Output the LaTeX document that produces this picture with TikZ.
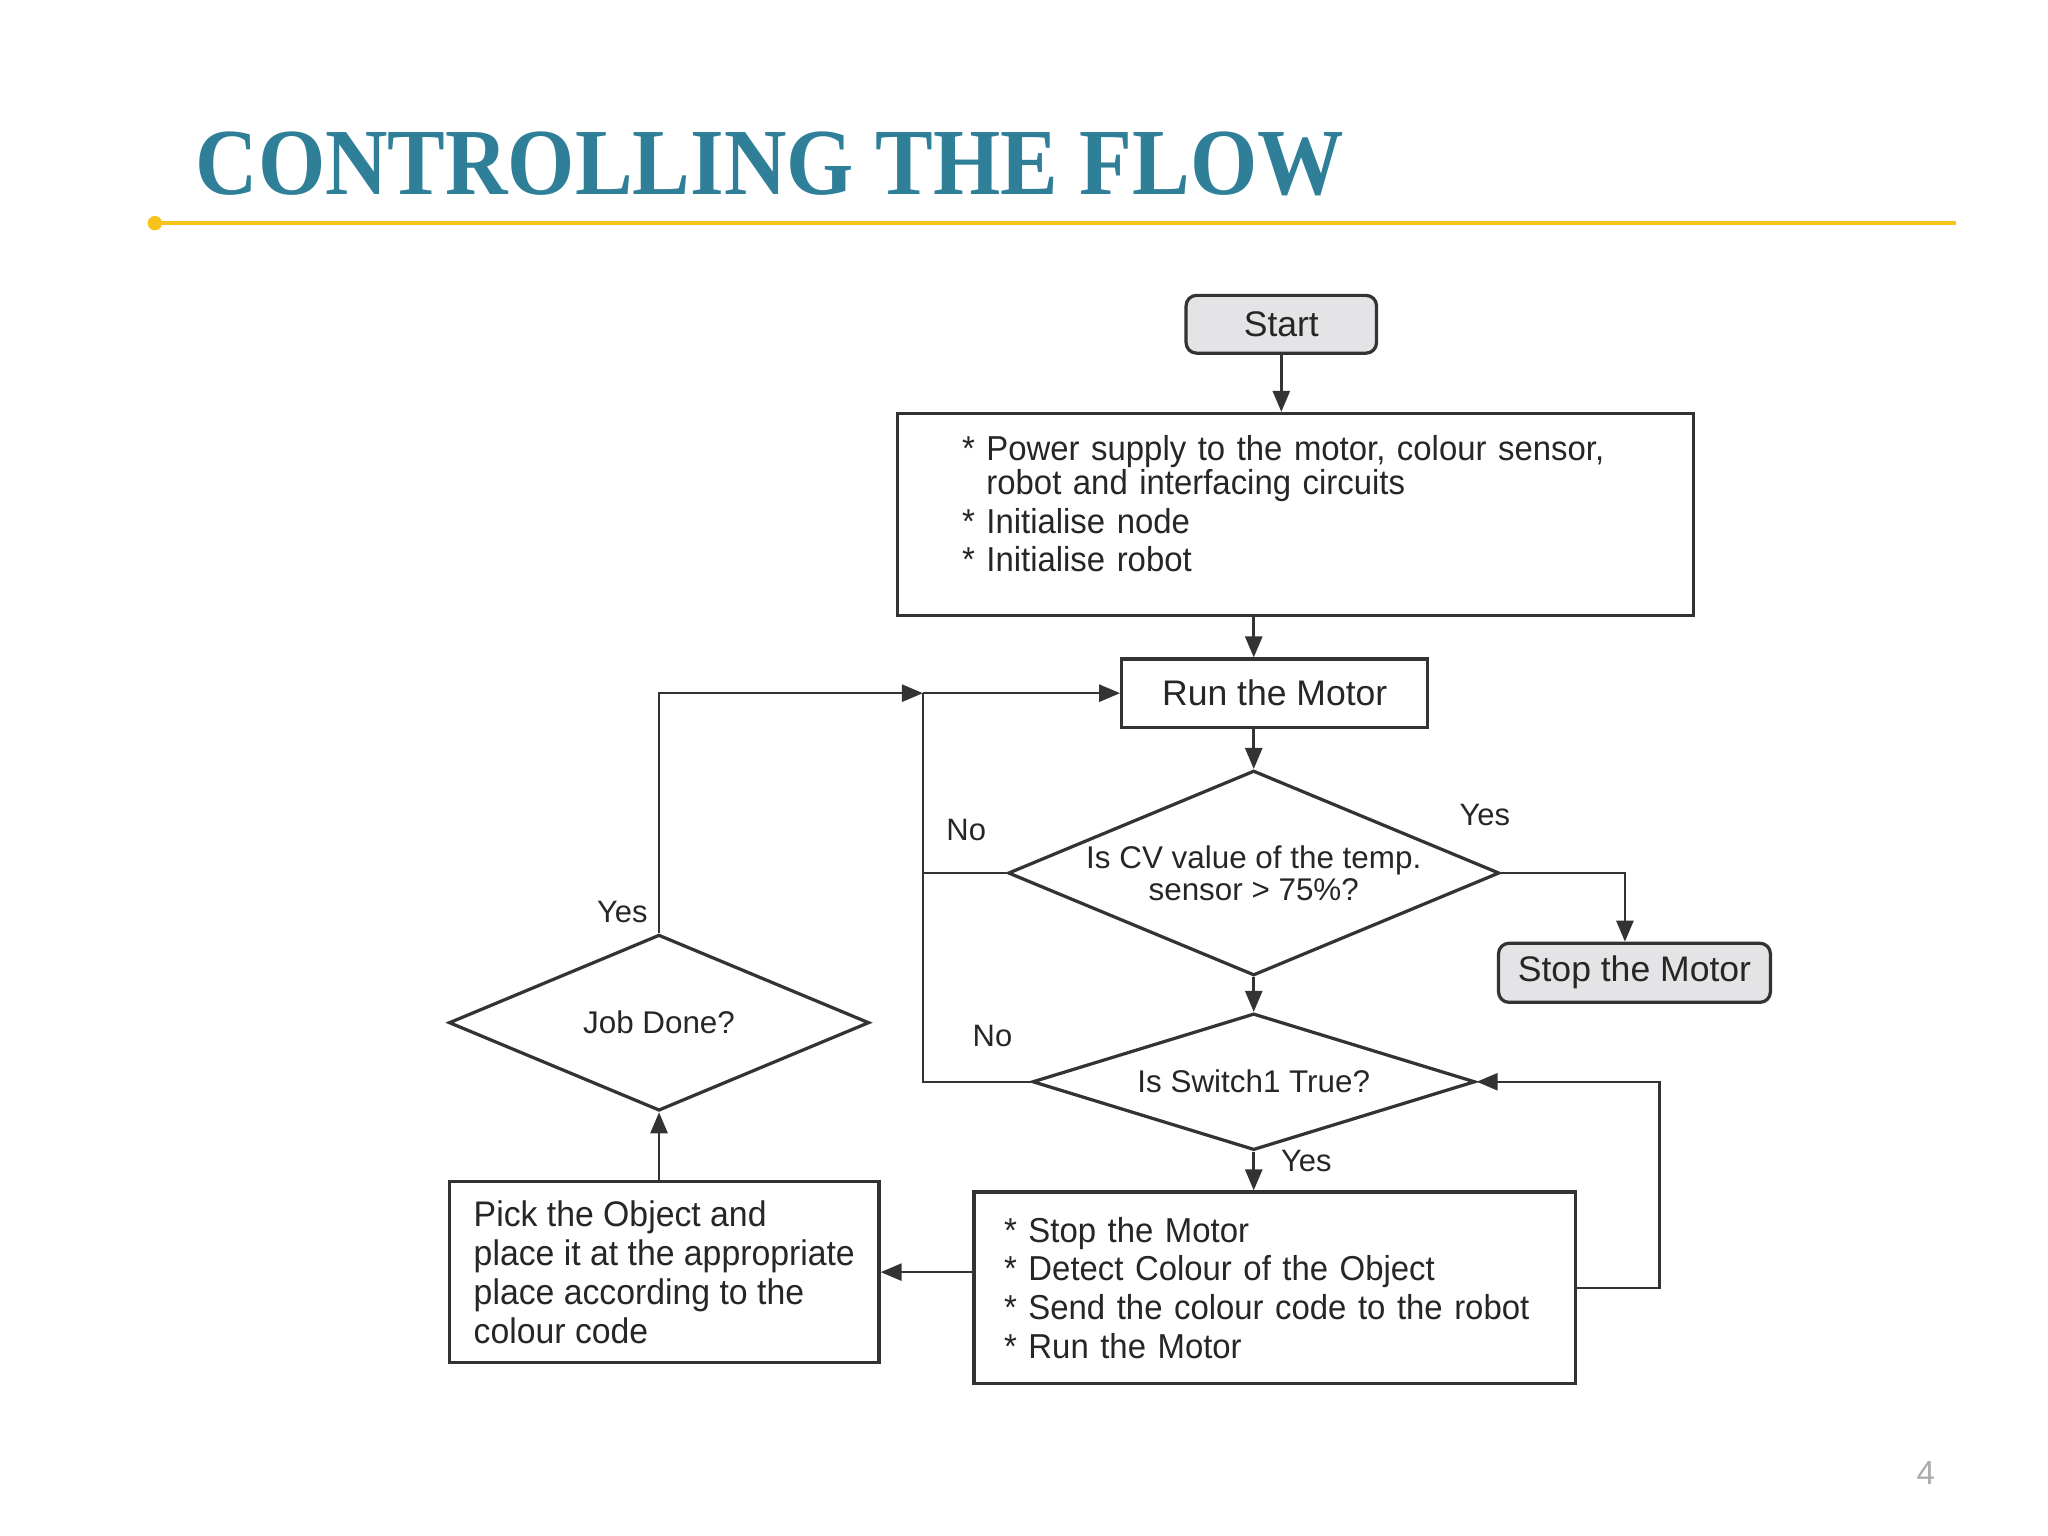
\documentclass[tikz,border=0pt]{standalone}
\usepackage{fontspec}
\usepackage{graphicx}
\setmainfont{Liberation Sans}
\newfontfamily\titlefont{Liberation Serif}
\newfontfamily\narrowfont{Liberation Sans}[FakeStretch=0.95]
\usetikzlibrary{positioning,arrows.meta,shapes.geometric}
\definecolor{linegray}{HTML}{333333}
\definecolor{textgray}{HTML}{262626}
\definecolor{boxgray}{HTML}{E4E4E7}
\definecolor{titleteal}{HTML}{2F7F99}
\definecolor{rulegold}{HTML}{F7C21A}
\tikzset{
    block/.style = {
        draw=linegray,
        shape=rectangle,
        line width=0.7pt,
        text=textgray,
        inner sep=0pt,
        font=\fontsize{7.7}{8.4}\selectfont
    },
    listbox/.style = {
        block,
        align=left,
        font=\narrowfont\fontsize{7.5}{8.4}\selectfont
    },
    terminal/.style = {
        block,
        rounded corners=0.08cm,
        fill=boxgray
    },
    decision/.style = {
        draw=linegray,
        shape=diamond,
        line width=0.7pt,
        text=textgray,
        inner sep=0pt,
        align=center,
        font=\fontsize{6.8}{6.9}\selectfont
    },
    answer/.style = {
        text=textgray,
        inner sep=0pt,
        font=\fontsize{6.7}{6.7}\selectfont
    },
    >={Triangle[length=0.16cm,width=0.13cm]},
}

\begin{document}
\begin{tikzpicture}[x=0.01cm,y=-0.01cm,color=linegray,line width=0.55pt]
    \useasboundingbox (0,0) rectangle (1560,1170);

    % heading
    \node[anchor=base west, inner sep=0pt, text=titleteal,
          font=\titlefont\bfseries\fontsize{20.5}{20.5}\selectfont] (title) at (148,148)
          {\scalebox{0.914}[1]{CONTROLLING THE FLOW}};
    \path[draw=rulegold, line width=0.75pt] (118,170) -- (1490,170);
    \fill[rulegold] (118,170) circle (0.055cm);
    \node[inner sep=0pt, text=gray!65, font=\fontsize{7.2}{7.2}\selectfont] (pagenum) at (1467,1122) {4};

    % boxes
    \node[terminal, minimum width=1.45cm, minimum height=0.44cm] (start) at (976,247) {Start};
    \node[listbox, minimum width=6.06cm, minimum height=1.54cm, text width=5.08cm,
          font=\narrowfont\fontsize{7.5}{7.4}\selectfont] (init) at (987,392)
          {* Power supply to the motor, colour sensor,\\
           \hphantom{* }robot and interfacing circuits\\[0.85pt]
           * Initialise node\\[0.85pt]
           * Initialise robot\\[-0.09cm]\mbox{}};
    \node[block, minimum width=2.33cm, minimum height=0.52cm] (run) at (971,528) {Run the Motor};
    \node[decision, aspect=2.4, minimum width=3.74cm, minimum height=1.56cm] (cv) at (955,665)
          {Is CV value of the temp.\\ sensor > 75\%?};
    \node[terminal, minimum width=2.07cm, minimum height=0.45cm] (stop) at (1245,741) {Stop the Motor};
    \node[decision, aspect=3.24, minimum width=3.37cm, minimum height=1.04cm] (sw) at (955,824)
          {Is Switch1 True?};
    \node[decision, aspect=2.39, minimum width=3.20cm, minimum height=1.34cm] (job) at (502,779)
          {Job Done?};
    \node[listbox, minimum width=4.58cm, minimum height=1.46cm, text width=4.12cm] (action) at (971,981)
          {* Stop the Motor\\{}%
           * Detect Colour of the Object\\{}%
           * Send the colour code to the robot\\{}%
           * Run the Motor};
    \node[listbox, minimum width=3.27cm, minimum height=1.38cm,
          font=\narrowfont\fontsize{7.7}{8.4}\selectfont] (pick) at (506,969)
          {Pick the Object and\\
           place it at the appropriate\\
           place according to the\\
           colour code};

    % answers
    \node[answer] (cvno) at (736,632) {No};
    \node[answer] (cvyes) at (1131,621) {Yes};
    \node[answer] (swno) at (756,789) {No};
    \node[answer] (swyes) at (995,884) {Yes};
    \node[answer] (jobyes) at (474,695) {Yes};

    \coordinate (merge) at (703,528);
    \coordinate (loopr) at (1264,824);

    % connectors
    \path[draw, ->] (start.south) -- (start.south |- init.north);
    \path[draw, ->] (init.south -| cv.north) -- (run.north -| cv.north);
    \path[draw, ->] (run.south -| cv.north) -- (cv.north);
    \path[draw, ->] (cv.east) -| (stop.107);
    \path[draw, ->] (cv.south) -- (sw.north);
    \path[draw, -] (cv.west) -| (merge);
    \path[draw, -] (sw.west) -| (merge);
    \path[draw, ->] (merge) -- (run.west);
    \path[draw, ->] (job.north) |- (merge);
    \path[draw, ->] (sw.south) -- (sw.south |- action.north);
    \path[draw, ->] (action.east) -| (loopr) -- (sw.east);
    \path[draw, ->] (action.west |- pick.east) -- (pick.east);
    \path[draw, ->] (job.south |- pick.north) -- (job.south);
\end{tikzpicture}
\end{document}
